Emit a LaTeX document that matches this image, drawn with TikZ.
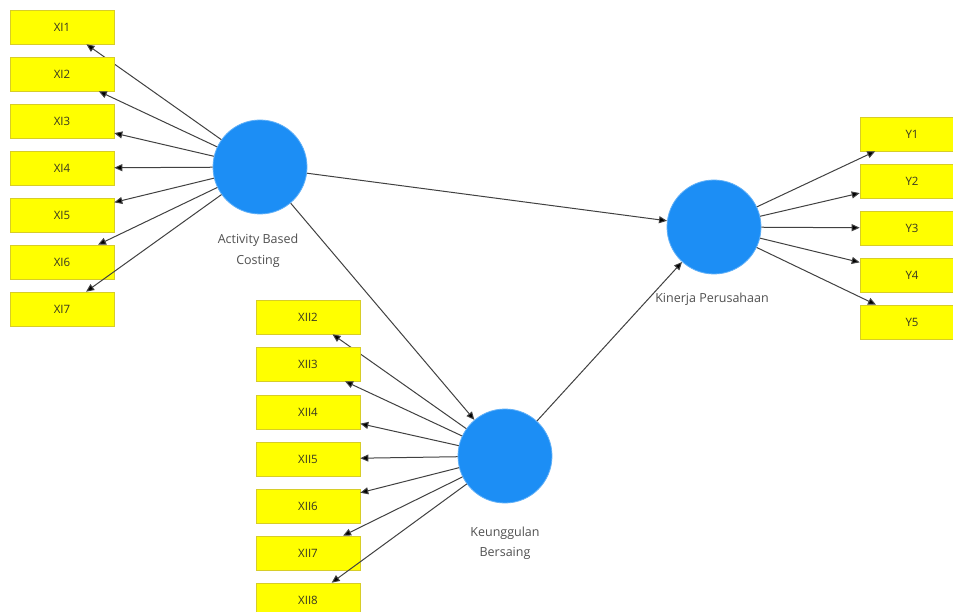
\documentclass[tikz,border=0pt]{standalone}
\usepackage{fontspec}
\setmainfont{Open Sans}
\usetikzlibrary{arrows.meta}
\definecolor{lvblue}{RGB}{28,142,245}
\definecolor{mvyellow}{RGB}{255,255,0}
\definecolor{mvborder}{RGB}{215,205,40}
\definecolor{txtdark}{RGB}{55,55,35}
\definecolor{lbl}{RGB}{80,80,80}
\definecolor{edge}{RGB}{65,65,65}
\tikzset{
  mv/.style={rectangle, fill=mvyellow, draw=mvborder, line width=0.6pt, minimum width=104pt, minimum height=34pt, inner sep=0pt, font=\fontsize{11.5}{13}\selectfont, text=txtdark},
  lv/.style={circle, fill=lvblue, draw=lvblue!70!white, line width=0.8pt, minimum size=94pt, inner sep=0pt},
  lvlabel/.style={align=center, font=\fontsize{12.5}{20.5}\selectfont, text=lbl},
  conn/.style={draw=edge, line width=1pt, -{Triangle[length=8pt,width=7pt,fill=black]}}
}
\begin{document}
\begin{tikzpicture}[x=1pt,y=-1pt]
\useasboundingbox (0,0) rectangle (953,612);
\clip (0,0) rectangle (953,612);
\fill[white] (0,0) rectangle (953,612);
% latent variables
\node[lv] (abc) at (260,167) {};
\node[lv] (kb) at (505,456) {};
\node[lv] (kp) at (714,227) {};
\node[lvlabel] (abcl) at (258,251) {Activity Based\\Costing};
\node[lvlabel] (kbl) at (505,543) {Keunggulan\\Bersaing};
\node[lvlabel] (kpl) at (712,299) {Kinerja Perusahaan};
% indicators X1
\foreach \i/\y in {1/27,2/74,3/121,4/168,5/215,6/262,7/309}{
  \node[mv] (xi\i) at (62,\y) {XI\i};
  \draw[conn] (abc) -- (xi\i);
}
% indicators X2
\foreach \i/\y in {2/317,3/364,4/412,5/459,6/506,7/553,8/600}{
  \node[mv] (xii\i) at (308,\y) {XII\i};
  \draw[conn] (kb) -- (xii\i);
}
% indicators Y
\foreach \i/\y in {1/134,2/181,3/228,4/275,5/322}{
  \node[mv] (y\i) at (912,\y) {Y\i};
  \draw[conn] (kp) -- (y\i);
}
% structural paths
\draw[conn] (abc) -- (kp);
\draw[conn] (abc) -- (kb);
\draw[conn] (kb) -- (kp);
\end{tikzpicture}
\end{document}
